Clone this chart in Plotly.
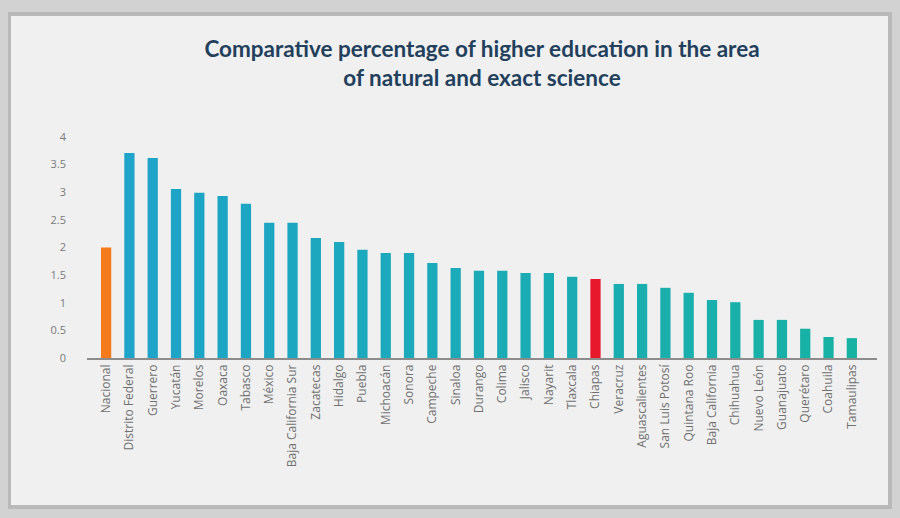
import plotly.graph_objects as go

states = ["Nacional", "Distrito Federal", "Guerrero", "Yucatán", "Morelos", "Oaxaca", "Tabasco",
          "México", "Baja California Sur", "Zacatecas", "Hidalgo", "Puebla", "Michoacán", "Sonora",
          "Campeche", "Sinaloa", "Durango", "Colima", "Jalisco", "Nayarit", "Tlaxcala", "Chiapas",
          "Veracruz", "Aguascalientes", "San Luis Potosí", "Quintana Roo", "Baja California",
          "Chihuahua", "Nuevo León", "Guanajuato", "Querétaro", "Coahuila", "Tamaulipas"]
values = [2.0, 3.71, 3.62, 3.06, 2.99, 2.93, 2.79,
          2.45, 2.45, 2.17, 2.10, 1.96, 1.90, 1.90,
          1.72, 1.63, 1.58, 1.58, 1.54, 1.54, 1.47, 1.43,
          1.34, 1.34, 1.27, 1.18, 1.05,
          1.01, 0.69, 0.69, 0.53, 0.38, 0.36]
y_ticks = [0, 0.5, 1, 1.5, 2, 2.5, 3, 3.5, 4]
title_text = "Comparative percentage of higher education in the area<br>of natural and exact science"

# style: teal gradient across bars, highlighted national (orange) and Chiapas (red)
def mix(c1, c2, t):
    return "rgb(%d,%d,%d)" % tuple(round(a + (b - a) * t) for a, b in zip(c1, c2))

n = len(states)
colors = [mix((30, 163, 202), (24, 178, 163), i / (n - 1)) for i in range(n)]
colors[states.index("Nacional")] = "#f57a1c"
colors[states.index("Chiapas")] = "#e8182c"

W, H = 900, 518
L, R, T, B = 87, 877, 137, 358
pw, ph = R - L, B - T

def px(x):
    return (x - L) / pw

def py(y):
    return (B - y) / ph

fig = go.Figure(go.Bar(x=states, y=values, marker=dict(color=colors, line=dict(width=0)),
                       width=0.44))

fig.update_layout(
    width=W, height=H,
    margin=dict(l=L, r=W - R, t=T, b=H - B),
    paper_bgcolor="#d2d2d2",
    plot_bgcolor="rgba(0,0,0,0)",
    showlegend=False,
    title=dict(text=title_text, x=0.5, xref="paper", xanchor="center", y=1 - 57 / H, yanchor="middle",
               font=dict(family="Lato", size=22.5, color="#22405c", weight="bold")),
    shapes=[
        dict(type="rect", xref="paper", yref="paper", x0=px(8), x1=px(892), y0=py(509), y1=py(12),
             fillcolor="#b9b9b9", line=dict(width=0), layer="below"),
        dict(type="rect", xref="paper", yref="paper", x0=px(11), x1=px(888), y0=py(505), y1=py(16),
             fillcolor="#f0f0f0", line=dict(width=0), layer="below"),
    ],
    xaxis=dict(
        type="category", range=[-0.82, n + 0.08], showgrid=False, showline=True,
        linecolor="#8c8c8c", linewidth=1.5, ticks="", tickangle=-90,
        tickfont=dict(family="Open Sans", size=12, color="#707070"),
    ),
    yaxis=dict(
        range=[0, 4], tickvals=y_ticks, ticktext=[("%g" % v) for v in y_ticks],
        showgrid=False, zeroline=False, showline=False, ticks="",
        tickfont=dict(family="Open Sans", size=11, color="#7a7a7a"), ticklabelstandoff=20,
    ),
)

fig.write_html("out.html", config={"displayModeBar": False},
               post_script="document.body.style.margin='0';")
